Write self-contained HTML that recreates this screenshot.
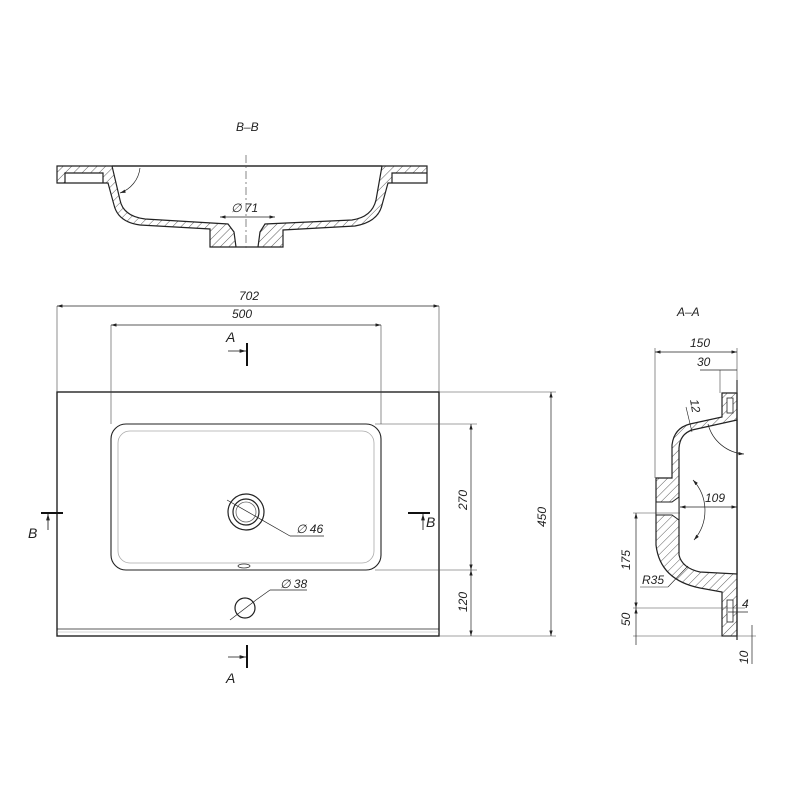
<!DOCTYPE html>
<html><head><meta charset="utf-8"><style>
html,body{margin:0;padding:0;background:#fff;}
svg{display:block}
text{font-family:"Liberation Sans",sans-serif;font-style:italic;fill:#222;}
</style></head><body>
<svg width="800" height="800" viewBox="0 0 800 800" xmlns="http://www.w3.org/2000/svg">
<defs>
<pattern id="h" width="6" height="6" patternUnits="userSpaceOnUse" patternTransform="rotate(45)">
<line x1="0" y1="0" x2="0" y2="6" stroke="#333" stroke-width="0.8"/>
</pattern>
<marker id="ar" viewBox="0 0 10 6" refX="10" refY="3" markerWidth="8" markerHeight="5" orient="auto-start-reverse">
<path d="M0,0 L10,3 L0,6 Z" fill="#222"/>
</marker>
</defs>

<!-- B-B section -->
<text x="236" y="131" font-size="12">B–B</text>
<path fill-rule="evenodd" fill="url(#h)" stroke="#222" stroke-width="1.2" d="
M57,166 L427,166 L427,183 L388,183 L382,205 Q378,222 355,226 L283,230 L283,247 L210,247 L210,229 L140,225 Q118,222 114,205 L108,183 L57,183 Z
M112,166 L382,166 L376,200 Q372,217 352,220 L265,224 L260,232 L258,247 L236,247 L234,232 L228,224 L145,219 Q123,216 120,200 Z
M65,173 L103,173 L103,183 L65,183 Z
M392,173 L427,173 L427,183 L392,183 Z"/>
<line x1="112" y1="166" x2="382" y2="166" stroke="#222" stroke-width="1.2"/>
<line x1="246" y1="155" x2="246" y2="250" stroke="#555" stroke-width="0.7" stroke-dasharray="8,3,2,3"/>
<line x1="220" y1="217" x2="275" y2="217" stroke="#222" stroke-width="0.7" marker-start="url(#ar)" marker-end="url(#ar)"/>
<text x="231" y="212" font-size="12">∅ 71</text>
<path d="M140,168 A30,30 0 0 1 120,193" fill="none" stroke="#222" stroke-width="0.7" marker-end="url(#ar)"/>

<!-- Plan view -->
<rect x="57" y="392" width="382" height="244" fill="none" stroke="#222" stroke-width="1.4"/>
<line x1="57" y1="629" x2="439" y2="629" stroke="#222" stroke-width="0.8"/>
<line x1="57" y1="632" x2="439" y2="632" stroke="#aaa" stroke-width="0.6"/>
<rect x="111" y="424" width="270" height="146" rx="15" fill="none" stroke="#222" stroke-width="1.1"/>
<rect x="118" y="431" width="256" height="132" rx="12" fill="none" stroke="#aaa" stroke-width="0.8"/>
<ellipse cx="244" cy="566" rx="6" ry="2" fill="none" stroke="#333" stroke-width="0.8"/>
<circle cx="246" cy="512" r="18" fill="none" stroke="#222" stroke-width="1.2"/>
<circle cx="246" cy="512" r="13" fill="none" stroke="#222" stroke-width="1.2"/>
<circle cx="246" cy="512" r="10" fill="none" stroke="#666" stroke-width="0.8"/>
<line x1="227" y1="500" x2="290" y2="536" stroke="#222" stroke-width="0.7"/>
<line x1="290" y1="536" x2="324" y2="536" stroke="#222" stroke-width="0.7"/>
<text x="296" y="533" font-size="12">∅ 46</text>
<circle cx="245" cy="608" r="10" fill="none" stroke="#222" stroke-width="1.2"/>
<line x1="230" y1="620" x2="256" y2="600" stroke="#222" stroke-width="0.7"/>
<line x1="256" y1="600" x2="270" y2="590" stroke="#222" stroke-width="0.7"/>
<line x1="270" y1="590" x2="307" y2="590" stroke="#222" stroke-width="0.7"/>
<text x="280" y="588" font-size="12">∅ 38</text>

<!-- dims plan -->
<line x1="57" y1="306" x2="57" y2="392" stroke="#444" stroke-width="0.6"/>
<line x1="439" y1="306" x2="439" y2="392" stroke="#444" stroke-width="0.6"/>
<line x1="57" y1="306" x2="439" y2="306" stroke="#222" stroke-width="0.7" marker-start="url(#ar)" marker-end="url(#ar)"/>
<text x="239" y="300" font-size="12">702</text>
<line x1="111" y1="325" x2="111" y2="424" stroke="#444" stroke-width="0.6"/>
<line x1="381" y1="325" x2="381" y2="424" stroke="#444" stroke-width="0.6"/>
<line x1="111" y1="325" x2="381" y2="325" stroke="#222" stroke-width="0.7" marker-start="url(#ar)" marker-end="url(#ar)"/>
<text x="232" y="318" font-size="12">500</text>
<line x1="375" y1="424" x2="477" y2="424" stroke="#444" stroke-width="0.6"/>
<line x1="375" y1="570" x2="477" y2="570" stroke="#444" stroke-width="0.6"/>
<line x1="439" y1="392" x2="556" y2="392" stroke="#444" stroke-width="0.6"/>
<line x1="439" y1="636" x2="556" y2="636" stroke="#444" stroke-width="0.6"/>
<line x1="471" y1="424" x2="471" y2="570" stroke="#222" stroke-width="0.7" marker-start="url(#ar)" marker-end="url(#ar)"/>
<line x1="471" y1="570" x2="471" y2="636" stroke="#222" stroke-width="0.7" marker-start="url(#ar)" marker-end="url(#ar)"/>
<line x1="551" y1="392" x2="551" y2="636" stroke="#222" stroke-width="0.7" marker-start="url(#ar)" marker-end="url(#ar)"/>
<text transform="translate(467,510) rotate(-90)" font-size="12">270</text>
<text transform="translate(467,612) rotate(-90)" font-size="12">120</text>
<text transform="translate(546,527) rotate(-90)" font-size="12">450</text>

<!-- section markers -->
<line x1="247" y1="343" x2="247" y2="366" stroke="#111" stroke-width="2"/>
<line x1="228" y1="351" x2="246" y2="351" stroke="#111" stroke-width="0.8" marker-end="url(#ar)"/>
<text x="226" y="342" font-size="14">A</text>
<line x1="247" y1="645" x2="247" y2="668" stroke="#111" stroke-width="2"/>
<line x1="228" y1="657" x2="246" y2="657" stroke="#111" stroke-width="0.8" marker-end="url(#ar)"/>
<text x="226" y="683" font-size="14">A</text>
<line x1="41" y1="513" x2="63" y2="513" stroke="#111" stroke-width="2"/>
<line x1="48" y1="530" x2="48" y2="514" stroke="#111" stroke-width="0.8" marker-end="url(#ar)"/>
<text x="28" y="538" font-size="14">B</text>
<line x1="408" y1="513" x2="430" y2="513" stroke="#111" stroke-width="2"/>
<line x1="423" y1="530" x2="423" y2="514" stroke="#111" stroke-width="0.8" marker-end="url(#ar)"/>
<text x="426" y="527" font-size="14">B</text>

<!-- A-A section -->
<text x="677" y="316" font-size="12">A–A</text>
<path fill="url(#h)" stroke="#222" stroke-width="1.2" d="M722,393 L737,393 L737,636 L722,636 L722,592 L700,588 Q660,580 656,545 L656,478 L672,478 L672,445 Q674,428 690,424 L722,417 Z"/>
<path fill="#fff" stroke="#222" stroke-width="1.2" d="M737,420 L692,430 Q680,434 679,448 L679,555 Q682,568 700,572 L737,574 Z"/>
<path fill="#fff" stroke="#222" stroke-width="1" d="M656,502 L672,502 L679,497 L679,520 L672,515 L656,515 Z"/>
<rect x="727" y="398" width="6" height="15" fill="#fff" stroke="#222" stroke-width="0.8"/>
<rect x="727" y="600" width="6" height="22" fill="#fff" stroke="#222" stroke-width="0.8"/>
<line x1="737" y1="380" x2="737" y2="640" stroke="#222" stroke-width="1.2"/>
<!-- A-A dims -->
<line x1="655" y1="348" x2="655" y2="478" stroke="#444" stroke-width="0.6"/>
<line x1="737" y1="348" x2="737" y2="393" stroke="#444" stroke-width="0.6"/>
<line x1="655" y1="352" x2="737" y2="352" stroke="#222" stroke-width="0.7" marker-start="url(#ar)" marker-end="url(#ar)"/>
<text x="690" y="347" font-size="12">150</text>
<line x1="720" y1="370" x2="720" y2="393" stroke="#444" stroke-width="0.6"/>
<line x1="700" y1="370" x2="737" y2="370" stroke="#222" stroke-width="0.7"/>
<text x="697" y="366" font-size="12">30</text>
<text transform="translate(690,400) rotate(80)" font-size="12">12</text>
<line x1="686" y1="407" x2="692" y2="432" stroke="#222" stroke-width="0.6"/>
<path d="M708,424 A40,40 0 0 0 744,454" fill="none" stroke="#222" stroke-width="0.7" marker-end="url(#ar)"/>
<line x1="680" y1="507" x2="737" y2="507" stroke="#222" stroke-width="0.7" marker-start="url(#ar)" marker-end="url(#ar)"/>
<text x="705" y="502" font-size="12">109</text>
<path d="M693,480 A45,45 0 0 1 694,540" fill="none" stroke="#222" stroke-width="0.7" marker-start="url(#ar)" marker-end="url(#ar)"/>
<line x1="633" y1="513" x2="680" y2="513" stroke="#444" stroke-width="0.6"/>
<line x1="633" y1="608" x2="745" y2="608" stroke="#444" stroke-width="0.6"/>
<line x1="633" y1="636" x2="756" y2="636" stroke="#444" stroke-width="0.6"/>
<line x1="636" y1="513" x2="636" y2="608" stroke="#222" stroke-width="0.7" marker-start="url(#ar)" marker-end="url(#ar)"/>
<line x1="636" y1="608" x2="636" y2="645" stroke="#222" stroke-width="0.7" marker-start="url(#ar)"/>
<text transform="translate(630,570) rotate(-90)" font-size="12">175</text>
<text transform="translate(630,626) rotate(-90)" font-size="12">50</text>
<line x1="752" y1="625" x2="752" y2="664" stroke="#222" stroke-width="0.7"/>
<text transform="translate(748,664) rotate(-90)" font-size="12">10</text>
<text x="742" y="608" font-size="12">4</text>
<line x1="728" y1="612" x2="748" y2="612" stroke="#222" stroke-width="0.7"/>
<text x="642" y="584" font-size="12">R35</text>
<line x1="640" y1="587" x2="668" y2="587" stroke="#222" stroke-width="0.6"/>
<line x1="668" y1="587" x2="688" y2="566" stroke="#222" stroke-width="0.6"/>
</svg>
</body></html>
